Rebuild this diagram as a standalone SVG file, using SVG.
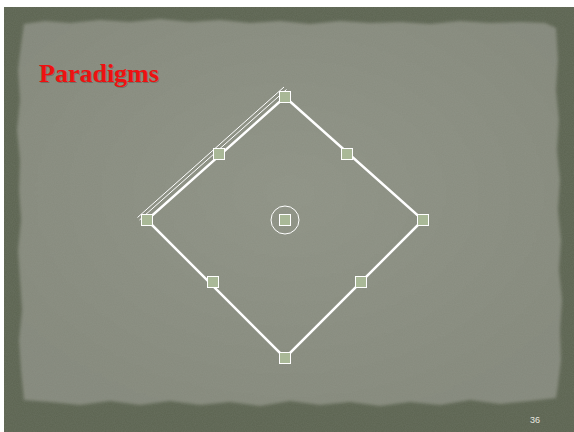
<svg xmlns="http://www.w3.org/2000/svg" width="574" height="432" viewBox="0 0 574 432">
<defs>
<style>
.edge{stroke:#ffffff;stroke-width:2.5;fill:none;stroke-linecap:square}
.thin{stroke:#ffffff;stroke-width:1;fill:none}
.base{fill:#a9b897;stroke:#ffffff;stroke-width:1}
.title{font-family:"Liberation Serif",serif;font-weight:bold;font-size:26px;fill:#ee1111}
.shadow{fill:#4a3a30;opacity:0.35}
.pg{font-family:"Liberation Sans",sans-serif;font-size:9px;fill:#e8e8e0}
</style>
<filter id="noise" x="0" y="0" width="100%" height="100%">
<feTurbulence type="fractalNoise" baseFrequency="0.9" numOctaves="2" seed="3" result="n"/>
<feColorMatrix type="matrix" values="0 0 0 0 0.5  0 0 0 0 0.52  0 0 0 0 0.47  0 0 0 0.12 0"/>
<feComposite in2="SourceGraphic" operator="in"/>
</filter>
<filter id="blur"><feGaussianBlur stdDeviation="1.8"/></filter>
<radialGradient id="paper" cx="50%" cy="45%" r="60%">
<stop offset="0" stop-color="#8e9285"/>
<stop offset="1" stop-color="#84887b"/>
</radialGradient>
</defs>
<rect width="574" height="432" fill="#ffffff"/>
<g id="background">
<rect x="4" y="7" width="570" height="425" fill="#5c6451"/>
<path d="M24 24 L45 21 L70 23 L100 20 L130 22 L160 19 L190 22 L220 20 L250 23 L280 21 L310 24 L340 21 L370 23 L400 22 L430 24 L460 21 L490 23 L520 22 L545 23 L556 28 L558 60 L556 90 L559 120 L557 150 L560 180 L558 210 L561 240 L559 270 L562 300 L560 330 L561 360 L558 385 L556 398 L530 401 L500 404 L470 400 L440 405 L410 402 L380 406 L350 402 L320 405 L290 401 L260 406 L230 402 L200 405 L170 401 L140 405 L110 401 L80 405 L50 402 L24 400 L21 370 L19 340 L22 310 L20 280 L18 250 L21 220 L19 190 L20 160 L17 130 L20 100 L18 70 L21 45 Z" fill="url(#paper)" filter="url(#blur)"/>
<rect x="4" y="7" width="570" height="425" fill="#888" filter="url(#noise)"/>
</g>
<g id="title">
<text class="title shadow" x="40" y="83">Paradigms</text>
<text class="title" x="39" y="82">Paradigms</text>
</g>
<g id="connectors">
<polygon class="edge" points="285,97 423,220 285,358 147,220"/>
<line class="thin" x1="137.5" y1="217.5" x2="284" y2="87"/>
<line class="thin" x1="139.5" y1="220" x2="286.5" y2="89.5"/>
<circle class="thin" cx="285" cy="220" r="14"/>
</g>
<g id="node-top"><rect class="base" x="279.5" y="91.5" width="11" height="11"/></g>
<g id="node-right"><rect class="base" x="417.5" y="214.5" width="11" height="11"/></g>
<g id="node-bottom"><rect class="base" x="279.5" y="352.5" width="11" height="11"/></g>
<g id="node-left"><rect class="base" x="141.5" y="214.5" width="11" height="11"/></g>
<g id="node-ul"><rect class="base" x="213.5" y="148.5" width="11" height="11"/></g>
<g id="node-ur"><rect class="base" x="341.5" y="148.5" width="11" height="11"/></g>
<g id="node-lr"><rect class="base" x="355.5" y="276.5" width="11" height="11"/></g>
<g id="node-ll"><rect class="base" x="207.5" y="276.5" width="11" height="11"/></g>
<g id="node-center"><rect class="base" x="279.5" y="214.5" width="11" height="11"/></g>
<g id="page"><text class="pg" x="530" y="423">36</text></g>
</svg>
